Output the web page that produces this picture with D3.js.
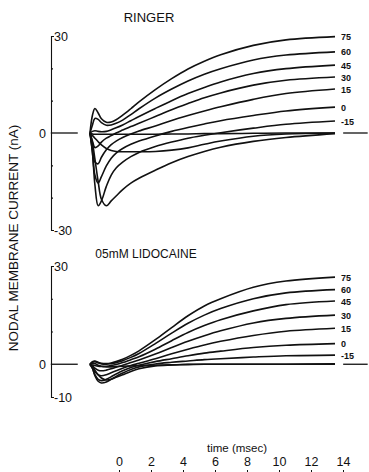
<!DOCTYPE html>
<html><head><meta charset="utf-8">
<script src="https://cdn.jsdelivr.net/npm/d3@7"></script>
<style>
body{margin:0;background:#fff}
svg{display:block}
text{font-family:"Liberation Sans",Arial,sans-serif;fill:#111}
</style>
</head><body>
<svg id="c" width="369" height="472"></svg>
<script>
// ---- data ----
const times = [0, 0.15, 0.3, 0.5, 0.7, 1.0, 1.3, 1.6, 2, 2.5, 3, 4, 5, 6, 7, 8, 10, 12, 15];
const baselineBefore = [-2.4, -0.75];
const baselineAfter = [15.5, 17];
const timeTicks = [0, 2, 4, 6, 8, 10, 12, 14];
const labelledVoltages = ["75", "60", "45", "30", "15", "0", "-15"];

// Ringer (nA)
const ringer75  = [0, 5.5, 7.6, 6.2, 4.4, 3.3, 3.4, 4.1, 5.5, 7.5, 9.6, 13.4, 16.8, 19.8, 22.2, 24.2, 27.1, 28.8, 29.8];
const ringer60  = [0, 2.5, 4.5, 4.2, 3.2, 2.4, 2.5, 3.0, 4.0, 5.7, 7.5, 10.8, 13.6, 16.1, 18.2, 19.9, 22.6, 24.1, 25.1];
const ringer45  = [0, 0.5, 0.7, 0.5, 0.4, 0.5, 1.0, 1.6, 2.5, 3.8, 5.1, 7.6, 10.0, 12.2, 14.1, 15.8, 18.4, 19.9, 21.0];
const ringer30  = [0, -2.5, -4.5, -4.0, -2.8, -1.6, -0.8, 0, 0.9, 2.0, 3.0, 5.1, 7.2, 9.1, 10.9, 12.4, 14.8, 16.3, 17.3];
const ringer15  = [0, -4.5, -9, -9.5, -7.5, -5.2, -3.6, -2.5, -1.4, -0.3, 0.6, 2.2, 3.9, 5.4, 6.8, 8.1, 10.4, 12.2, 13.6];
const ringer0   = [0, -6, -13, -15.5, -13.5, -10.2, -7.8, -6.2, -4.8, -3.5, -2.5, -0.9, 0.5, 1.7, 2.8, 3.8, 5.4, 6.8, 8.0];
const ringerM15 = [0, -6, -16, -22.5, -21, -16.5, -13, -10.8, -9.0, -7.3, -6.0, -4.2, -2.8, -1.6, -0.7, 0.1, 1.5, 2.7, 3.7];
const ringerM30 = [0, -3, -8, -15, -20.5, -22.5, -21, -19.5, -17.5, -15.5, -14, -11.5, -9.2, -7.3, -5.7, -4.4, -2.6, -1.4, -0.2];
const ringerM45 = [0, -0.8, -1.6, -2.7, -3.7, -4.8, -5.4, -5.7, -5.8, -5.8, -5.8, -5.7, -5.3, -4.6, -3.5, -2.5, -1.0, -0.3, 0];
const ringerM60 = [0, -0.3, -0.4, -0.4, -0.4, -0.4, -0.4, -0.4, -0.4, -0.4, -0.4, -0.4, -0.3, -0.3, -0.2, -0.2, -0.1, 0, 0];

// 0.5 mM lidocaine (nA)
const lido75  = [0, 0.8, 1.0, 0.6, 0.3, 0.2, 0.4, 0.8, 1.5, 2.7, 4.1, 7.5, 11.2, 14.8, 17.8, 20.0, 23.5, 25.4, 26.6];
const lido60  = [0, 0.6, 0.8, 0.4, 0.1, 0, 0.2, 0.5, 1.1, 2.1, 3.3, 6.3, 9.5, 12.5, 15.0, 17.0, 20.0, 21.8, 22.8];
const lido45  = [0, 0.3, 0.2, -0.3, -0.6, -0.6, -0.4, -0.1, 0.5, 1.4, 2.3, 4.6, 7.2, 9.7, 11.8, 13.6, 16.3, 18.2, 19.3];
const lido30  = [0, -0.5, -1.2, -1.8, -2.0, -1.8, -1.4, -0.9, -0.3, 0.5, 1.3, 3.1, 5.1, 7.0, 8.7, 10.2, 12.6, 14.0, 15.0];
const lido15  = [0, -1, -2.3, -3.2, -3.5, -3.2, -2.6, -2.0, -1.2, -0.4, 0.3, 1.7, 3.2, 4.6, 5.9, 7.0, 8.8, 10.1, 11.0];
const lido0   = [0, -1.3, -3.2, -4.6, -5.0, -4.6, -3.8, -3.0, -2.0, -1.0, -0.3, 0.8, 1.7, 2.6, 3.4, 4.0, 5.1, 5.8, 6.3];
const lidoM15 = [0, -1.2, -3.5, -5.2, -5.7, -5.4, -4.6, -3.7, -2.7, -1.6, -0.8, 0.1, 0.6, 1.0, 1.4, 1.7, 2.2, 2.6, 2.8];
const lidoM30 = [0, -0.6, -1.8, -3.2, -4.2, -4.8, -4.6, -4.0, -3.2, -2.2, -1.4, -0.5, -0.2, 0, 0, 0, 0, 0, 0.1];
const lidoM45 = [0, -0.2, -0.4, -0.6, -0.7, -0.8, -0.8, -0.7, -0.6, -0.5, -0.4, -0.3, -0.2, -0.1, 0, 0, 0, 0, 0];

const ringerSeries = [ringer75, ringer60, ringer45, ringer30, ringer15, ringer0, ringerM15, ringerM30, ringerM45, ringerM60];
const lidoSeries = [lido75, lido60, lido45, lido30, lido15, lido0, lidoM15, lidoM30, lidoM45];

// ---- drawing ----
const svg = d3.select("#c");
const x = d3.scaleLinear().domain([0, 15]).range([90, 335]);
const tAxis = d3.scaleLinear().domain([0, 14]).range([119, 343]);
const yTop = d3.scaleLinear().domain([-30, 30]).range([230, 36]);
const yBot = d3.scaleLinear().domain([-10, 30]).range([397, 266]);
const axisX = 51;

function panel(y, series, yTicks, topLabel, bottomLabel, title, titleX, titleY, titleSize) {
  const g = svg.append("g");
  const ax = g.append("g").attr("transform", `translate(${axisX},0)`)
    .call(d3.axisRight(y).tickValues(yTicks).tickSize(2).tickSizeOuter(3).tickFormat(""));
  ax.selectAll("path,line").attr("stroke", "#111").attr("stroke-width", 1.1);
  const [d0, d1] = y.domain();
  g.append("text").attr("x", axisX + 3).attr("y", y(d1) + 5).attr("font-size", 12.5).text(topLabel);
  g.append("text").attr("x", axisX + 3).attr("y", y(d0) + 5).attr("font-size", 12.5).text(bottomLabel);
  g.append("text").attr("x", axisX - 5).attr("y", y(0) + 4.5).attr("text-anchor", "end").attr("font-size", 12.5).text("0");
  const flat = d3.line().x(d => x(d)).y(() => y(0));
  g.append("path").attr("d", flat(baselineBefore)).attr("stroke", "#111").attr("stroke-width", 1.3).attr("fill", "none");
  g.append("path").attr("d", flat(baselineAfter)).attr("stroke", "#111").attr("stroke-width", 1.3).attr("fill", "none");
  const line = d3.line().x((d, i) => x(times[i])).y(d => y(d)).curve(d3.curveCatmullRom.alpha(0.5));
  g.selectAll("path.curve").data(series).join("path").attr("class", "curve")
    .attr("d", line).attr("fill", "none").attr("stroke", "#111").attr("stroke-width", 1.6);
  labelledVoltages.forEach((v, i) => {
    const s = series[i];
    g.append("text").attr("x", x(15) + 6).attr("y", y(s[s.length - 1]) + 3.5)
      .attr("font-size", 9).attr("font-weight", "bold").text(v);
  });
  g.append("text").attr("x", titleX).attr("y", titleY).attr("text-anchor", "middle")
    .attr("font-size", titleSize).text(title);
}

panel(yTop, ringerSeries, [-20, -10, 10, 20], "30", "-30", "RINGER", 149, 22, 13);
panel(yBot, lidoSeries, [10, 20], "30", "-10", "05mM  LIDOCAINE", 146, 258, 12);

const ta = svg.append("g").attr("transform", "translate(0,473)")
  .call(d3.axisTop(tAxis).tickValues(timeTicks).tickSize(3).tickPadding(4));
ta.select(".domain").remove();
ta.selectAll("line").attr("stroke", "#111");
ta.selectAll("text").attr("font-size", 12.5).attr("fill", "#111")
  .attr("font-family", '"Liberation Sans",Arial,sans-serif');
svg.append("text").attr("x", 237).attr("y", 452).attr("text-anchor", "middle")
  .attr("font-size", 11.5).text("time (msec)");

svg.append("text").attr("transform", "translate(18,238) rotate(-90)")
  .attr("text-anchor", "middle").attr("font-size", 13.5)
  .text("NODAL MEMBRANE CURRENT (nA)");
</script>
</body></html>
